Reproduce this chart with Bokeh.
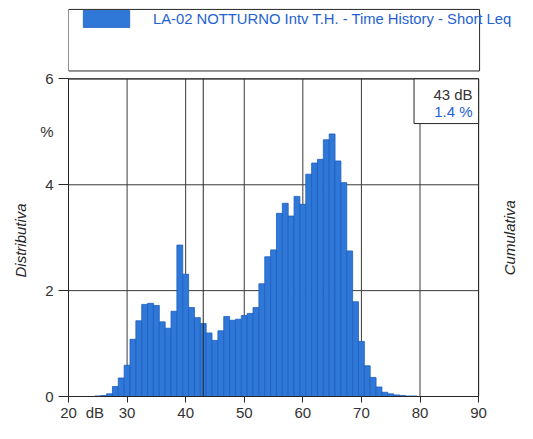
import math
from bokeh.plotting import figure
from bokeh.models import (Range1d, FixedTicker, Label, BoxAnnotation,
                          Legend, LegendItem, Title)
from bokeh.embed import file_html
from bokeh.resources import INLINE

# ---------------- data ----------------
series_name = "LA-02 NOTTURNO Intv T.H. - Time History - Short Leq"
db_bins = list(range(25, 80))
pct = [0.01, 0.02, 0.05, 0.19, 0.35, 0.59, 1.08, 1.43, 1.74, 1.76,
       1.72, 1.41, 1.29, 1.61, 2.86, 2.31, 1.68, 1.49, 1.38, 1.20,
       1.06, 1.24, 1.51, 1.44, 1.46, 1.53, 1.57, 1.68, 2.13, 2.64,
       2.77, 3.46, 3.65, 3.41, 3.78, 3.63, 4.20, 4.41, 4.48, 4.85,
       4.96, 4.45, 4.04, 2.75, 1.79, 1.04, 0.58, 0.36, 0.18, 0.08,
       0.05, 0.03, 0.02, 0.01, 0.01]
x_ticks = [20, 30, 40, 50, 60, 70, 80, 90]
y_ticks = [0, 2, 4, 6]
x_unit, y_unit = "dB", "%"
y_left_title, y_right_title = "Distributiva", "Cumulativa"
cursor_db = 43
cursor_pct = pct[db_bins.index(cursor_db)]

# ---------------- style / layout ----------------
FONT = "Liberation Sans"
BAR_FILL = "#2F78D7"
BAR_LINE = "#1D5EC2"
BLUE_TEXT = "#1F62D0"
DARK = "#262626"
GRID = "#3a3a3a"
LABEL_C = "#333333"

X0, X1 = x_ticks[0], x_ticks[-1]
Y0, Y1 = y_ticks[0], y_ticks[-1]
W, H = 517, 423
PL, PR, PT, PB = 67, 478, 79, 399          # plot-area edges (px)
PX_X = (PR - PL) / (X1 - X0)
PX_Y = (PB - PT) / (Y1 - Y0)
X_UNIT_POS = 24.5
Y_UNIT_POS = 5
LEFT_TITLE_LIFT = 119                       # px from plot bottom to title start

# the frame extends to the top and right canvas edges so that the legend
# block and the right title can be drawn inside it
p = figure(width=W, height=H, output_backend="svg", toolbar_location=None,
           x_range=Range1d(X0, X1 + (W - PR) / PX_X),
           y_range=Range1d(Y0, Y1 + PT / PX_Y),
           min_border_left=PL, min_border_right=0,
           min_border_top=0, min_border_bottom=H - PB,
           background_fill_color="white", border_fill_color="white")
p.outline_line_color = None
p.xgrid.visible = False
p.ygrid.visible = False

# ---- axes: unit texts as labels without tick marks, marks as minor ticks
p.xaxis.ticker = FixedTicker(ticks=sorted(x_ticks + [X_UNIT_POS]), minor_ticks=x_ticks)
p.yaxis.ticker = FixedTicker(ticks=sorted(y_ticks + [Y_UNIT_POS]), minor_ticks=y_ticks)
p.xaxis.major_label_overrides = {**{t: str(t) for t in x_ticks}, X_UNIT_POS: x_unit}
p.yaxis.major_label_overrides = {Y_UNIT_POS: y_unit}
p.xaxis.bounds = (X0, X1)
p.yaxis.bounds = (Y0, Y1)
for ax in (p.xaxis[0], p.yaxis[0]):
    ax.major_tick_line_color = None
    ax.major_tick_in = 0
    ax.minor_tick_in = 0
    ax.minor_tick_line_color = DARK
    ax.axis_line_color = DARK
    ax.major_label_text_font = FONT
    ax.major_label_text_font_size = "15px"
    ax.major_label_text_color = LABEL_C
p.xaxis.major_tick_out = 6
p.xaxis.minor_tick_out = 6
p.xaxis.major_label_standoff = 1
p.yaxis.major_tick_out = 10
p.yaxis.minor_tick_out = 10
p.yaxis.major_label_standoff = 5

# left title, aligned to the frame bottom and lifted onto the plot centre
p.add_layout(Title(text=y_left_title, align="left", offset=LEFT_TITLE_LIFT,
                   standoff=18, text_font=FONT, text_font_style="italic",
                   text_font_size="15px", text_color=DARK), "left")

# grid lines limited to the plot area
p.segment(x0=x_ticks, y0=[Y0] * len(x_ticks), x1=x_ticks, y1=[Y1] * len(x_ticks),
          line_color=GRID, line_width=1, level="underlay")
p.segment(x0=[X0] * len(y_ticks), y0=y_ticks, x1=[X1] * len(y_ticks), y1=y_ticks,
          line_color=GRID, line_width=1, level="underlay")

# bars
bars = p.vbar(x=db_bins, top=pct, width=1.0, bottom=0,
              fill_color=BAR_FILL, line_color=BAR_LINE, line_width=0.8)

# plot-area border
p.add_layout(BoxAnnotation(left=X0, right=X1, bottom=Y0, top=Y1,
                           fill_alpha=0, line_color=DARK, line_alpha=1,
                           line_width=1))

# cursor line
p.segment(x0=[cursor_db], y0=[Y0], x1=[cursor_db], y1=[Y1],
          line_color=DARK, line_width=1, level="overlay")

# cursor read-out box
p.add_layout(BoxAnnotation(left=80 - 6 / PX_X, right=X1, top=Y1,
                           bottom=Y1 - 45 / PX_Y, fill_color="white",
                           fill_alpha=1, line_color=DARK, line_alpha=1,
                           line_width=1, level="overlay"))
p.add_layout(Label(x=X1 - 6 / PX_X, y=Y1 - 16 / PX_Y,
                   text=f"{cursor_db} dB", text_align="right",
                   text_baseline="middle", text_font=FONT,
                   text_font_size="15px", text_color=LABEL_C,
                   level="overlay"))
p.add_layout(Label(x=X1 - 6 / PX_X, y=Y1 - 33 / PX_Y,
                   text=f"{cursor_pct:.1f} %", text_align="right",
                   text_baseline="middle", text_font=FONT,
                   text_font_size="15px", text_color=BLUE_TEXT,
                   level="overlay"))

# right-hand title
p.add_layout(Label(x=X1 + 31 / PX_X, y=(Y0 + Y1) / 2, text=y_right_title,
                   angle=math.pi / 2, text_align="center",
                   text_baseline="middle", text_font=FONT,
                   text_font_style="italic", text_font_size="15px",
                   text_color=DARK))

# legend block
p.add_layout(BoxAnnotation(left=X0, right=X1 + 1 / PX_X,
                           bottom=Y1 + 8 / PX_Y, top=Y1 + 70 / PX_Y,
                           fill_alpha=0, line_color=DARK, line_alpha=1,
                           line_width=1))
GW, GH = 58, 21          # legend glyph box (the swatch is drawn 10% inset)
legend = Legend(items=[LegendItem(label=series_name, renderers=[bars])],
                location=(9, PB - 11 - GH), padding=0, margin=0, spacing=0,
                border_line_alpha=0, background_fill_alpha=0,
                glyph_width=GW, glyph_height=GH, label_height=GH,
                label_standoff=18, label_text_font=FONT,
                label_text_font_size="14.8px", label_text_color=BLUE_TEXT)
p.add_layout(legend)

open("out.html", "w").write(file_html(p, INLINE))
